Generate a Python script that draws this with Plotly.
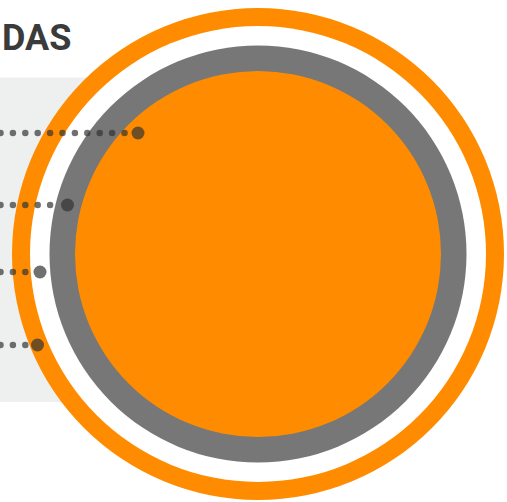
import numpy as np
import plotly.graph_objects as go

# ---- data ----
title_text = "DAS"
row_y = [133, 205, 272, 345]          # vertical positions of the dotted leaders
row_end_x = [138, 67.5, 40, 37.5]     # where each leader ends (big dot)

# ---- style ----
W, H = 507, 502
CX, CY = 258, 254
R_OUTER, R_RING_IN, R_GRAY, R_FILL = 246, 228, 208.5, 183
ORANGE = "#ff8c00"
GRAY = "#777777"
PANEL = "#eef0f0"
DOT = "rgba(51,51,51,0.7)"
DOT_STEP = 12.4
DOT_START = 0.5

fig = go.Figure()

shapes = [
    dict(type="rect", x0=-5, x1=260, y0=77.5, y1=402, fillcolor=PANEL, line_width=0, layer="below"),
]
for r, col in [(R_OUTER, ORANGE), (R_RING_IN, "white"), (R_GRAY, GRAY), (R_FILL, ORANGE)]:
    shapes.append(dict(type="circle", x0=CX - r, x1=CX + r, y0=CY - r, y1=CY + r,
                       fillcolor=col, line_width=0, layer="below"))

for y, ex in zip(row_y, row_end_x):
    grid = DOT_START + DOT_STEP * np.arange(0, 40)
    sx = grid[grid < ex - 10]
    fig.add_trace(go.Scatter(x=sx, y=[y] * len(sx), mode="markers",
                             marker=dict(size=6.5, color=DOT, line_width=0),
                             hoverinfo="skip", showlegend=False))
    fig.add_trace(go.Scatter(x=[ex], y=[y], mode="markers",
                             marker=dict(size=13, color=DOT, line_width=0),
                             hoverinfo="skip", showlegend=False))

fig.update_layout(
    width=W, height=H,
    margin=dict(l=0, r=0, t=0, b=0),
    paper_bgcolor="white", plot_bgcolor="white",
    shapes=shapes,
    xaxis=dict(range=[0, W], visible=False, fixedrange=True),
    yaxis=dict(range=[H, 0], visible=False, fixedrange=True),
    annotations=[dict(
        text="<b>" + title_text + "</b>", x=0, y=38, xref="x", yref="y",
        xanchor="left", yanchor="middle", showarrow=False,
        font=dict(family="Roboto, Liberation Sans Narrow, sans-serif",
                  size=36, color="#3b3b3b"),
    )],
)

fig.write_html("out.html", config={"staticPlot": True},
               post_script="document.body.style.margin='0';document.body.style.overflow='hidden';")
